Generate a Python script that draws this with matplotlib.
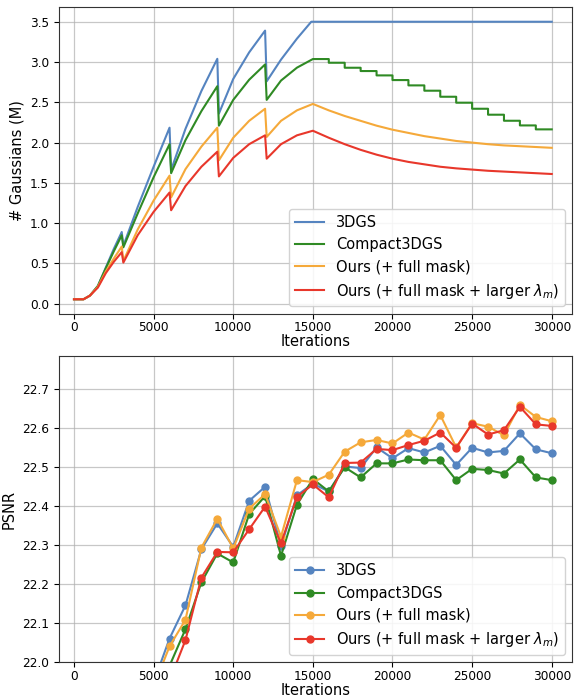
import matplotlib
matplotlib.use("Agg")
import matplotlib.pyplot as plt
import numpy as np

# ---------------- data: # Gaussians (M) ----------------
it_3dgs = [0, 600, 1000, 1500, 2000, 2500, 3000, 3100, 4000, 5000, 6000, 6100, 7000, 8000,
           9000, 9100, 10000, 11000, 12000, 12100, 13000, 14000, 14900, 30000]
g_3dgs = [0.055, 0.055, 0.10, 0.22, 0.45, 0.68, 0.89, 0.72, 1.20, 1.70, 2.185, 1.66, 2.17, 2.64,
          3.04, 2.36, 2.79, 3.12, 3.39, 2.76, 3.03, 3.29, 3.50, 3.50]

it_c3dgs = [0, 600, 1000, 1500, 2000, 2500, 3000, 3100, 4000, 5000, 6000, 6100, 7000, 8000,
            9000, 9100, 10000, 11000, 12000, 12100, 13000, 14000, 15000]
g_c3dgs = [0.055, 0.055, 0.10, 0.22, 0.44, 0.65, 0.85, 0.70, 1.12, 1.57, 1.98, 1.62, 2.03, 2.39,
           2.70, 2.21, 2.53, 2.78, 2.97, 2.53, 2.77, 2.93, 3.037]
# Compact3DGS pruning stairs after 15k (level held for each 1000 iterations)
step_start = [15000, 16000, 17000, 18000, 19000, 20000, 21000, 22000, 23000, 24000,
              25000, 26000, 27000, 28000, 29000]
step_level = [3.037, 2.991, 2.929, 2.888, 2.834, 2.776, 2.710, 2.644, 2.569, 2.495,
              2.420, 2.346, 2.271, 2.213, 2.164]

it_ours = [0, 600, 1000, 1500, 2000, 2500, 3000, 3100, 4000, 5000, 6000, 6100, 7000, 8000,
           9000, 9100, 10000, 11000, 12000, 12100, 13000, 14000, 15000, 16000, 17000, 18000,
           19000, 20000, 21000, 22000, 23000, 24000, 25000, 26000, 27000, 28000, 29000, 30000]
g_ours = [0.055, 0.055, 0.10, 0.21, 0.40, 0.56, 0.71, 0.53, 0.92, 1.28, 1.59, 1.32, 1.67, 1.95,
          2.185, 1.78, 2.06, 2.27, 2.42, 2.07, 2.27, 2.40, 2.48, 2.40, 2.33, 2.27,
          2.21, 2.16, 2.12, 2.08, 2.05, 2.02, 2.00, 1.98, 1.965, 1.955, 1.945, 1.935]
g_ours_l = [0.055, 0.055, 0.10, 0.20, 0.38, 0.52, 0.64, 0.51, 0.85, 1.14, 1.38, 1.16, 1.46, 1.70,
            1.887, 1.58, 1.81, 1.98, 2.09, 1.80, 1.98, 2.09, 2.147, 2.06, 1.98, 1.91,
            1.85, 1.80, 1.76, 1.73, 1.70, 1.68, 1.665, 1.65, 1.64, 1.63, 1.62, 1.61]

# ---------------- data: PSNR ----------------
it_psnr = [5000, 6000, 7000, 8000, 9000, 10000, 11000, 12000, 13000, 14000, 15000, 16000,
           17000, 18000, 19000, 20000, 21000, 22000, 23000, 24000, 25000, 26000, 27000,
           28000, 29000, 30000]
p_3dgs = [21.948, 22.061, 22.146, 22.290, 22.356, 22.296, 22.414, 22.450, 22.298, 22.428,
          22.458, 22.438, 22.502, 22.498, 22.551, 22.523, 22.549, 22.538, 22.555, 22.506,
          22.550, 22.538, 22.542, 22.587, 22.546, 22.536]
p_c3dgs = [21.85, 21.991, 22.085, 22.205, 22.279, 22.256, 22.380, 22.426, 22.273, 22.404,
           22.470, 22.438, 22.500, 22.474, 22.510, 22.510, 22.520, 22.518, 22.518, 22.467,
           22.496, 22.493, 22.484, 22.520, 22.474, 22.467]
p_ours = [21.937, 22.041, 22.109, 22.294, 22.368, 22.292, 22.394, 22.431, 22.322, 22.467,
          22.462, 22.481, 22.540, 22.564, 22.570, 22.561, 22.589, 22.571, 22.634, 22.551,
          22.613, 22.604, 22.582, 22.660, 22.629, 22.618]
p_ours_l = [21.85, 21.953, 22.057, 22.217, 22.283, 22.282, 22.341, 22.399, 22.305, 22.424,
            22.456, 22.423, 22.511, 22.512, 22.547, 22.544, 22.557, 22.568, 22.589, 22.550,
            22.612, 22.584, 22.595, 22.655, 22.610, 22.606]

labels = ["3DGS", "Compact3DGS", "Ours (+ full mask)", r"Ours (+ full mask + larger $\lambda_m$)"]
colors = ["#5584c0", "#2f8a24", "#f5a93a", "#e8372b"]

# build Compact3DGS stair tail
cx = list(it_c3dgs)
cy = list(g_c3dgs)
for s, lv in zip(step_start, step_level):
    cx += [s, s + 1000]
    cy += [lv, lv]

TICK_FS = 8.7
LAB_FS = 10.5
LEG_FS = 10.5

fig = plt.figure(figsize=(5.8, 6.98), dpi=100)
ax1 = fig.add_axes([0.1012, 0.5506, 0.8855, 0.4389])
ax2 = fig.add_axes([0.1012, 0.0511, 0.8855, 0.4393])

lw = 1.5
ax1.plot(it_3dgs, g_3dgs, color=colors[0], lw=lw, label=labels[0])
ax1.plot(cx, cy, color=colors[1], lw=lw, label=labels[1])
ax1.plot(it_ours, g_ours, color=colors[2], lw=lw, label=labels[2])
ax1.plot(it_ours, g_ours_l, color=colors[3], lw=lw, label=labels[3])
ax1.set_xlim(-960, 31290)
ax1.set_ylim(-0.124, 3.679)
ax1.set_xticks(np.arange(0, 30001, 5000))
ax1.set_yticks(np.arange(0, 3.51, 0.5))
ax1.set_xlabel("Iterations", fontsize=LAB_FS, labelpad=0)
ax1.set_ylabel("# Gaussians (M)", fontsize=LAB_FS)

series = [p_3dgs, p_c3dgs, p_ours, p_ours_l]
for s, c, l in zip(series, colors, labels):
    ax2.plot(it_psnr, s, color=c, lw=1.5, marker="o", markersize=5, label=l)
ax2.set_xlim(-960, 31290)
ax2.set_ylim(22.0, 22.786)
ax2.set_xticks(np.arange(0, 30001, 5000))
ax2.set_yticks(np.arange(22.0, 22.71, 0.1))
ax2.set_xlabel("Iterations", fontsize=LAB_FS, labelpad=0)
ax2.set_ylabel("PSNR", fontsize=LAB_FS)

for ax in (ax1, ax2):
    ax.grid(True, color="#b0b0b0", alpha=0.7, linewidth=0.9)
    ax.set_axisbelow(True)
    ax.tick_params(labelsize=TICK_FS)
    ax.tick_params(axis="x", pad=2)
    for sp in ax.spines.values():
        sp.set_color("#333333")
    ax.legend(loc="lower right", fontsize=LEG_FS, framealpha=0.85)

fig.savefig("out.png", dpi=100)
